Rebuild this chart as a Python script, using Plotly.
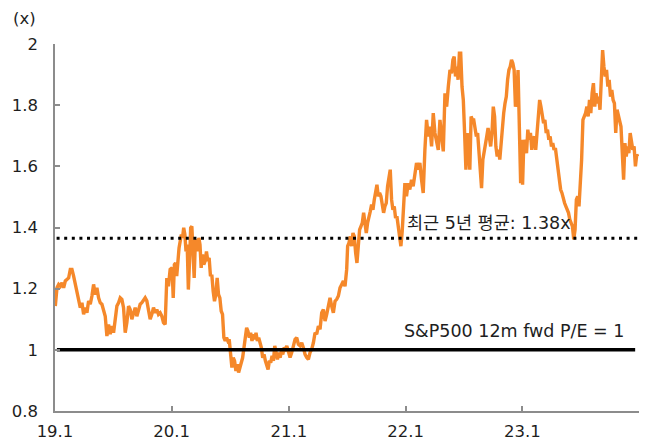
import pandas as pd
import plotly.graph_objects as go

# ---- data ----
vals_2019 = [1.143, 1.203, 1.214, 1.208, 1.219, 1.203, 1.225, 1.230, 1.235, 1.263,
             1.263, 1.241, 1.214, 1.192, 1.165, 1.138, 1.154, 1.116, 1.138, 1.121,
             1.160, 1.149, 1.176, 1.214, 1.181, 1.203, 1.170, 1.154, 1.149, 1.127,
             1.110, 1.045, 1.083, 1.051, 1.078, 1.056, 1.110, 1.143, 1.154, 1.170,
             1.165, 1.138, 1.056, 1.089, 1.143, 1.132, 1.100, 1.121, 1.138, 1.110,
             1.132, 1.149, 1.154, 1.160, 1.170, 1.160, 1.132, 1.100, 1.116, 1.138,
             1.121, 1.132, 1.116, 1.121, 1.110, 1.089, 1.083, 1.235, 1.208, 1.263]
vals_2020a = [1.268, 1.170, 1.279, 1.284, 1.241, 1.301, 1.333, 1.355, 1.377, 1.366,
              1.399, 1.377, 1.322, 1.344, 1.197, 1.290, 1.399, 1.404, 1.312, 1.235,
              1.355, 1.360, 1.322, 1.366, 1.344, 1.268]
vals_2020b = [1.312, 1.279, 1.290, 1.322, 1.290, 1.301, 1.241, 1.246, 1.192, 1.159,
              1.181, 1.235, 1.181, 1.170, 1.127, 1.116, 1.040, 1.029, 1.040, 1.029,
              1.034, 0.985, 0.942, 0.974, 0.964, 0.931, 0.953, 0.926, 0.942, 0.964,
              0.974, 1.007, 1.051, 1.072, 1.061, 1.040, 1.056, 1.029, 1.051, 1.034,
              1.056, 1.029, 1.040, 1.023, 1.007, 0.974, 0.985, 0.964, 0.947, 0.936,
              0.964, 0.958, 0.980, 0.964, 1.013, 0.985, 0.969, 0.991, 0.974, 0.996,
              0.985, 1.007, 1.002, 1.013, 0.996]
vals_2021a = [0.975, 0.991, 1.013, 1.034, 1.040, 1.018, 1.013, 1.023, 1.007, 0.985,
              0.975, 0.969, 0.991, 1.002, 1.023, 1.056, 1.051, 1.078, 1.067, 1.121,
              1.132, 1.094, 1.116, 1.138, 1.170, 1.143, 1.121, 1.159, 1.165, 1.176,
              1.203, 1.214, 1.225, 1.208, 1.263]
vals_2021b = [1.339, 1.350, 1.371, 1.339, 1.382, 1.371, 1.317, 1.284, 1.339, 1.393,
              1.404, 1.415, 1.448, 1.404, 1.382, 1.415, 1.442, 1.453, 1.475, 1.458,
              1.491, 1.524, 1.540, 1.502, 1.513, 1.502, 1.480, 1.448, 1.469, 1.480,
              1.535, 1.556, 1.589, 1.491, 1.458, 1.469, 1.431, 1.437, 1.404, 1.371,
              1.339, 1.388, 1.458, 1.545]
vals_2022a = [1.502, 1.545, 1.524, 1.556, 1.535, 1.578, 1.611, 1.589, 1.611, 1.556,
              1.513, 1.654, 1.752, 1.698, 1.730, 1.665, 1.774, 1.709, 1.687, 1.654,
              1.752, 1.687, 1.649, 1.839, 1.795, 1.861, 1.915]
vals_2022b = [1.904, 1.948, 1.959, 1.894, 1.926, 1.883, 1.970, 1.970, 1.861, 1.817,
              1.709, 1.589, 1.709, 1.643, 1.589, 1.763, 1.752, 1.752, 1.720, 1.698,
              1.709, 1.643, 1.600, 1.529, 1.622, 1.654, 1.665, 1.698, 1.725, 1.687,
              1.665, 1.709, 1.795, 1.763, 1.665, 1.632, 1.654, 1.622, 1.687, 1.741,
              1.774, 1.806, 1.828, 1.883, 1.915, 1.926, 1.948, 1.937, 1.915, 1.795,
              1.817, 1.915, 1.730, 1.545, 1.687]
vals_2023 = [1.540, 1.687, 1.665, 1.643, 1.720, 1.687, 1.709, 1.654, 1.687, 1.698,
             1.654, 1.709, 1.752, 1.817, 1.795, 1.763, 1.741, 1.752, 1.709, 1.720,
             1.687, 1.698, 1.665, 1.676, 1.654, 1.660, 1.622, 1.600, 1.556, 1.524,
             1.513, 1.491, 1.480, 1.469, 1.458, 1.448, 1.426, 1.415, 1.404, 1.361,
             1.393, 1.491, 1.502, 1.469, 1.535, 1.622, 1.752, 1.763, 1.774, 1.795,
             1.763, 1.817, 1.774, 1.839, 1.872, 1.795, 1.839, 1.806, 1.828, 1.785,
             1.861, 1.980, 1.926, 1.894, 1.915, 1.861, 1.883, 1.828, 1.850, 1.817,
             1.806, 1.709, 1.785, 1.763, 1.752, 1.730, 1.643, 1.556, 1.676, 1.632,
             1.665, 1.643, 1.709, 1.687, 1.654, 1.665, 1.600, 1.638, 1.632]

segments = [
    ("2019-01-02", "2019-12-27", vals_2019),
    ("2020-01-02", "2020-04-02", vals_2020a),
    ("2020-04-06", "2020-12-30", vals_2020b),
    ("2021-01-05", "2021-07-01", vals_2021a),
    ("2021-07-04", "2021-12-30", vals_2021b),
    ("2022-01-04", "2022-05-20", vals_2022a),
    ("2022-05-25", "2022-12-31", vals_2022b),
    ("2023-01-02", "2023-12-29", vals_2023),
]

avg_5y = 1.365
avg_label = "최근 5년 평균: 1.38x"
parity = 1.0
parity_label = "S&P500 12m fwd P/E = 1"
tick_dates = ["2019-01-01", "2020-01-01", "2021-01-01", "2022-01-01", "2023-01-01", "2024-01-01"]
tick_labels = ["19.1", "20.1", "21.1", "22.1", "23.1", ""]
y_ticks = [0.8, 1, 1.2, 1.4, 1.6, 1.8, 2]
y_labels = ["0.8", "1", "1.2", "1.4", "1.6", "1.8", "2"]

dates, values = [], []
for start, end, vals in segments:
    dates.extend(pd.date_range(start, end, periods=len(vals)))
    values.extend(vals)

FONT = "DejaVu Sans, Noto Sans CJK KR, sans-serif"
TXT = "#1e1e1e"
fig = go.Figure()
fig.add_trace(go.Scatter(x=dates, y=values, mode="lines",
                         line=dict(color="#F5882A", width=3.4), hoverinfo="skip"))
fig.add_trace(go.Scatter(x=["2019-01-06", "2023-12-29"], y=[avg_5y, avg_5y], mode="lines",
                         line=dict(color="black", width=3, dash="3px,4.6px")))
fig.add_trace(go.Scatter(x=["2019-01-07", "2023-12-20"], y=[parity, parity], mode="lines",
                         line=dict(color="black", width=3.5)))

fig.add_annotation(x="2021-12-30", y=avg_5y, yshift=15, text=avg_label, showarrow=False,
                   xanchor="left", font=dict(size=17.5, color=TXT, family=FONT))
fig.add_annotation(x="2021-12-22", y=parity, yshift=19, text=parity_label, showarrow=False,
                   xanchor="left", font=dict(size=17.5, color=TXT, family=FONT))
fig.add_annotation(xref="paper", yref="paper", x=0, y=1.0, xshift=-17, yshift=26,
                   yanchor="middle", text="(x)",
                   showarrow=False, xanchor="right", font=dict(size=16.5, color=TXT, family=FONT))

# page body has an 8px default margin, so the figure is sized to fit the window
fig.update_layout(
    width=641, height=440,
    margin=dict(l=47, r=10, t=36, b=37),
    paper_bgcolor="white", plot_bgcolor="white",
    showlegend=False,
    font=dict(family=FONT, size=16.5, color=TXT),
)
fig.update_xaxes(range=["2019-01-01", "2024-01-01"], tickvals=tick_dates, ticktext=tick_labels,
                 showgrid=False, zeroline=False, showline=True, linecolor="#8c8c8c", linewidth=1.5,
                 ticks="inside", ticklen=5, tickcolor="#8c8c8c", tickwidth=1.5,
                 ticklabelstandoff=4, automargin=False)
fig.update_yaxes(range=[0.8, 2], tickvals=y_ticks, ticktext=y_labels,
                 showgrid=False, zeroline=False, showline=True, linecolor="#8c8c8c", linewidth=1.5,
                 ticks="inside", ticklen=5, tickcolor="#8c8c8c", tickwidth=1.5,
                 ticklabelstandoff=12, automargin=False)

fig.write_html("out.html")
